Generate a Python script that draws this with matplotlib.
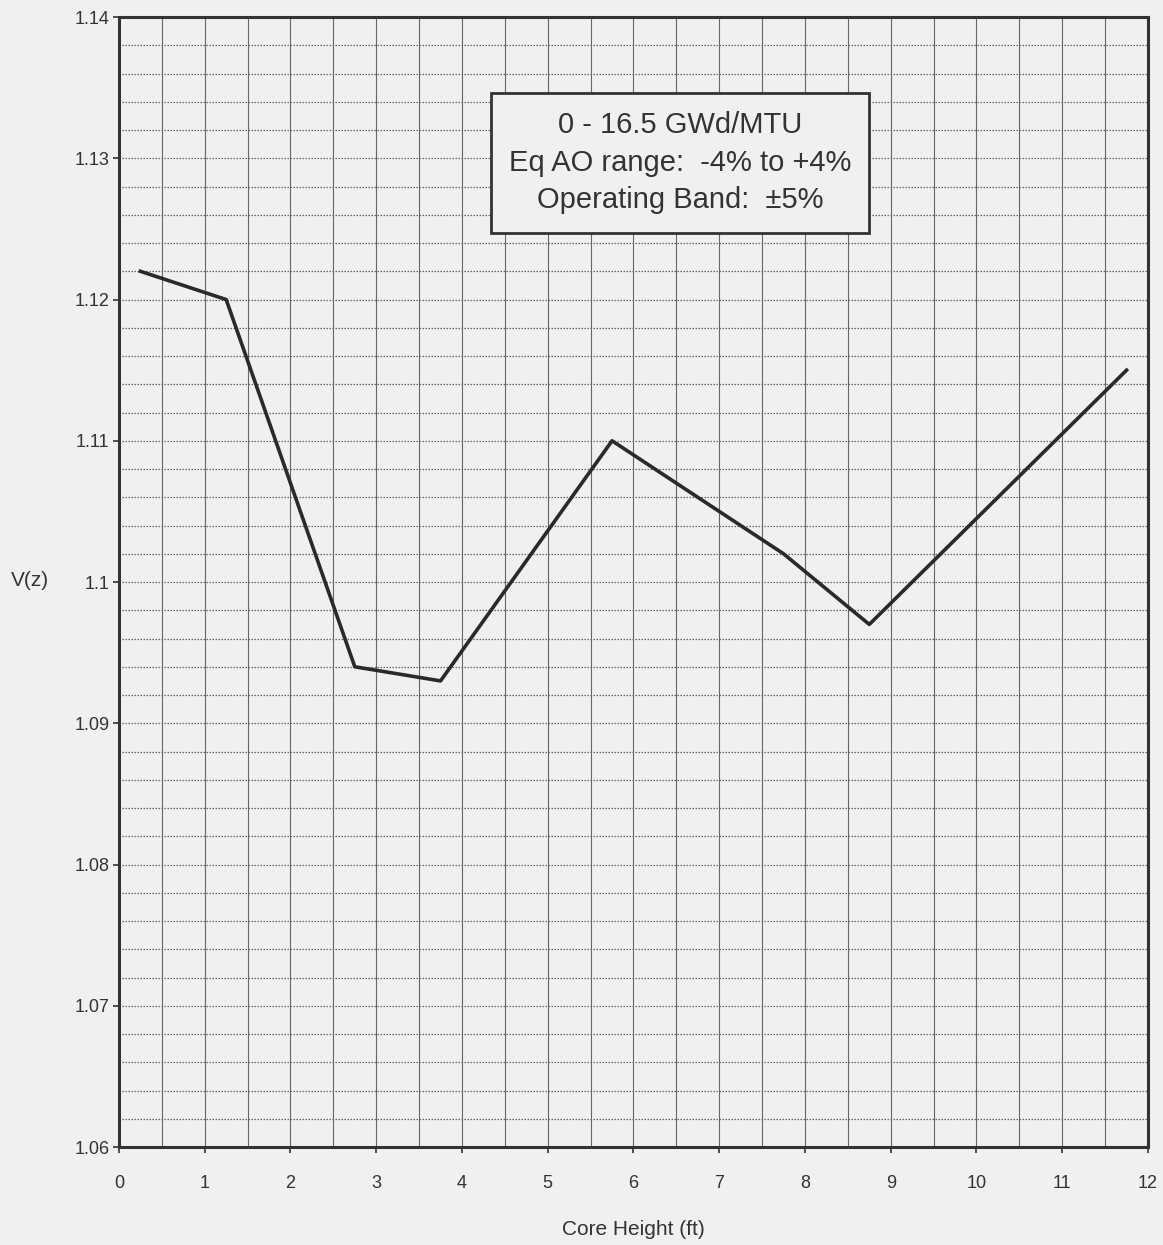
import matplotlib.pyplot as plt
import numpy as np

plt.rcParams['font.family'] = ['Liberation Sans', 'DejaVu Sans']

# core height (ft) and V(z)
height = [0.25, 1.25, 2.75, 3.75, 5.75, 7.75, 8.75, 11.75]
vz = [1.122, 1.120, 1.094, 1.093, 1.110, 1.102, 1.097, 1.115]

x_ticks = list(range(0, 13))
y_ticks = [1.06, 1.07, 1.08, 1.09, 1.1, 1.11, 1.12, 1.13, 1.14]
y_tick_labels = ['1.06', '1.07', '1.08', '1.09', '1.1', '1.11', '1.12', '1.13', '1.14']

box_text = "0 - 16.5 GWd/MTU\nEq AO range:  -4% to +4%\nOperating Band:  \u00b15%"

fig = plt.figure(figsize=(11.63, 12.45), dpi=100, facecolor='#f0f0f0')
ax = fig.add_axes([0.1023, 0.0787, 0.8848, 0.9076])
ax.set_facecolor('#f0f0f0')

ax.set_xlim(0, 12)
ax.set_ylim(1.06, 1.14)

# grid: solid verticals every 0.5 ft, dotted horizontals every 0.002
for gx in np.arange(0.5, 12, 0.5):
    ax.axvline(gx, color='#666666', lw=0.8, zorder=1)
for gy in np.arange(1.062, 1.1395, 0.002):
    ax.axhline(gy, color='#666666', lw=0.9, ls=(0, (1.2, 1.2)), zorder=1)

ax.plot(height, vz, color='#2a2a2a', lw=2.6, zorder=3)

ax.set_xticks(x_ticks)
ax.set_yticks(y_ticks)
ax.set_yticklabels(y_tick_labels)
ax.tick_params(axis='both', direction='out', length=4, width=1.2, colors='#333333',
               labelsize=13, labelcolor='#333333')
ax.tick_params(axis='x', pad=16)
ax.tick_params(axis='y', pad=3)
for s in ax.spines.values():
    s.set_linewidth(2.2)
    s.set_color('#333333')

ax.set_xlabel('Core Height (ft)', fontsize=15, color='#333333', labelpad=20)
fig.text(0.026, 0.534, 'V(z)', fontsize=15, color='#333333', ha='center', va='center')

ax.text(6.54, 1.1297, box_text, fontsize=21, color='#333333', ha='center', va='center',
        linespacing=1.45, zorder=5,
        bbox=dict(boxstyle='square,pad=0.62', facecolor='#f0f0f0', edgecolor='#333333', lw=2))

fig.savefig('out.png', dpi=100, facecolor=fig.get_facecolor())
